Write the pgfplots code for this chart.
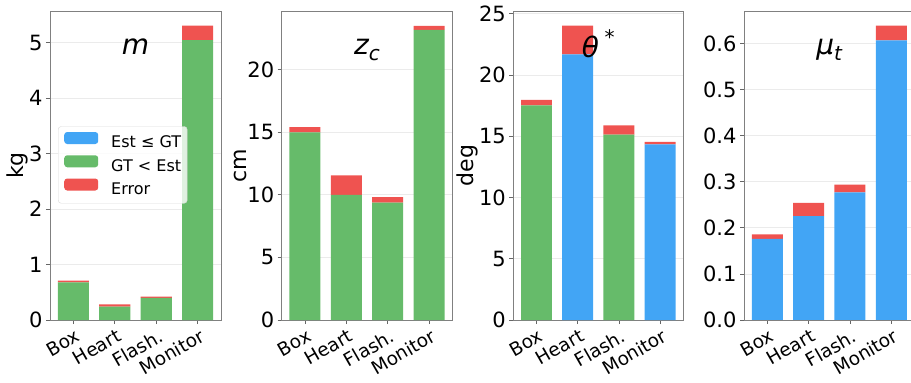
\documentclass[border=0pt]{standalone}
\usepackage{fontspec}
\setmainfont{DejaVu Sans}
\usepackage{pgfplots}
\pgfplotsset{compat=1.18}
\definecolor{cblue}{HTML}{42A5F5}
\definecolor{cgreen}{HTML}{66BB6A}
\definecolor{cred}{HTML}{EF5350}
\definecolor{cgrid}{HTML}{EBEBEB}
\definecolor{cframe}{HTML}{808080}
\pgfplotsset{
  panel/.style={
    scale only axis, height=309pt, anchor=south west,
    ybar stacked, bar width=0.75,
    xmin=-0.5625, xmax=3.5625, ymin=0,
    xtick={0,1,2,3}, xticklabels={Box,Heart,Flash.,Monitor},
    xticklabel style={rotate=30, anchor=north east, font=\fontsize{18.5}{22}\selectfont, inner sep=1pt, yshift=-3pt},
    yticklabel style={font=\fontsize{21}{25}\selectfont},
    /pgf/number format/assume math mode=true,
    ymajorgrids, major grid style={cgrid, line width=0.8pt},
    axis line style={cframe, line width=0.8pt},
    tick style={black!60, line width=0.8pt},
    tick align=outside, major tick length=4pt,
    xtick pos=bottom, ytick pos=left,
    ylabel style={font=\fontsize{22}{26}\selectfont}, ylabel shift=-6pt,
  },
  mylegend/.style={legend image code/.code={\fill[##1, fill opacity=1] (0pt,-0.5pt) rectangle (34pt,11.5pt);}},
}
\tikzset{ttl/.style={anchor=base, font=\fontsize{28}{32}\selectfont\itshape}}
\begin{document}
\begin{tikzpicture}
\path[use as bounding box, clip] (0pt,0pt) rectangle (911pt,383pt);
% ---- m
\begin{axis}[panel, at={(50pt,63pt)}, width=171pt, ymax=5.575, ytick={0,1,2,3,4,5}, ylabel={kg},
  legend style={at={(0.047,0.502)}, anchor=west, font=\fontsize{16}{19}\selectfont,
    draw=black!15, rounded corners=3pt, fill=white, fill opacity=0.8, text opacity=1,
    inner xsep=6pt, inner ysep=5.5pt, row sep=4pt, legend cell align=left,
    nodes={inner sep=0pt, text height=12pt, text depth=3.5pt},
    /tikz/every odd column/.append style={column sep=13pt}},
  after end axis/.append code={\node[ttl] at (axis description cs:0.5,0.858) {m};}]
\addplot[fill=cblue, draw=none, mylegend] coordinates {(0,0) (1,0) (2,0) (3,0)};
\addplot[fill=cgreen, draw=none, mylegend] coordinates {(0,0.68) (1,0.24) (2,0.40) (3,5.05)};
\addplot[fill=cred, draw=none, mylegend] coordinates {(0,0.03) (1,0.04) (2,0.02) (3,0.26)};
\legend{Est ≤ GT, GT < Est, Error}
\end{axis}
% ---- z_c
\begin{axis}[panel, at={(281.7pt,63pt)}, width=170.6pt, ymax=24.7, ytick={0,5,10,15,20}, ylabel={cm},
  after end axis/.append code={\node[ttl] at (axis description cs:0.5,0.858) {z\raisebox{-0.2em}{\fontsize{20}{20}\selectfont c}};}]
\addplot[fill=cblue, draw=none] coordinates {(0,0) (1,0) (2,0) (3,0)};
\addplot[fill=cgreen, draw=none] coordinates {(0,15.0) (1,10.0) (2,9.39) (3,23.2)};
\addplot[fill=cred, draw=none] coordinates {(0,0.42) (1,1.57) (2,0.43) (3,0.32)};
\end{axis}
% ---- theta*
\begin{axis}[panel, at={(513.3pt,63pt)}, width=170pt, ymax=25.22, ytick={0,5,10,15,20,25}, ylabel={deg},
  after end axis/.append code={\node[ttl] at (axis description cs:0.5,0.851) {θ\hspace{0.2em}\raisebox{0.45em}{\upshape\fontsize{20}{20}\selectfont *}};}]
\addplot[fill=cblue, draw=none] coordinates {(0,0) (1,21.68) (2,0) (3,14.34)};
\addplot[fill=cgreen, draw=none] coordinates {(0,17.52) (1,0) (2,15.13) (3,0)};
\addplot[fill=cred, draw=none] coordinates {(0,0.44) (1,2.34) (2,0.76) (3,0.19)};
\end{axis}
% ---- mu_t
\begin{axis}[panel, at={(744pt,63pt)}, width=170.5pt, ymax=0.671, ytick={0,0.1,0.2,0.3,0.4,0.5,0.6},
  yticklabel style={/pgf/number format/.cd, fixed, fixed zerofill, precision=1},
  after end axis/.append code={\node[ttl] at (axis description cs:0.5,0.858) {μ\raisebox{-0.2em}{\fontsize{20}{20}\selectfont t}};}]
\addplot[fill=cblue, draw=none] coordinates {(0,0.176) (1,0.2256) (2,0.277) (3,0.607)};
\addplot[fill=cgreen, draw=none] coordinates {(0,0) (1,0) (2,0) (3,0)};
\addplot[fill=cred, draw=none] coordinates {(0,0.010) (1,0.029) (2,0.017) (3,0.032)};
\end{axis}
\end{tikzpicture}
\end{document}
